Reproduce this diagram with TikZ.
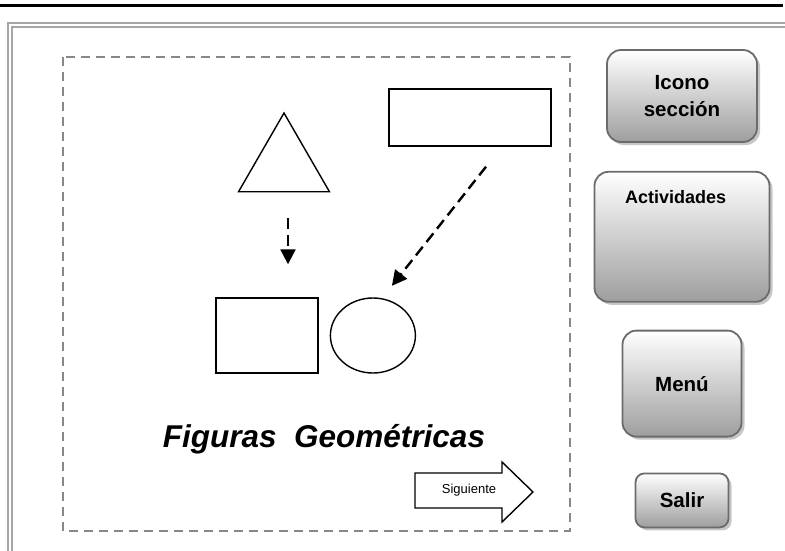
\documentclass[tikz,border=0pt]{standalone}
\usepackage{fontspec}
\setmainfont{Liberation Sans}
\usetikzlibrary{positioning}
\usetikzlibrary{arrows.meta}
\usetikzlibrary{shapes.geometric}
\usetikzlibrary{shadows}

\begin{document}
\begin{tikzpicture}[x=1pt, y=-1pt,
        fig/.style={draw=black, line width=1.4pt, inner sep=0pt},
        button/.style={draw=black!58, line width=1.8pt, rounded corners=14pt, top color=white, bottom color=black!38, drop shadow={shadow xshift=3pt, shadow yshift=-3pt, fill=black!22, opacity=1}, inner sep=0pt, align=center, font=\bfseries\fontsize{20.5}{27}\selectfont},
        flow/.style={dash pattern=on 11pt off 6pt, line width=2.4pt, -{Triangle[length=15pt, width=15pt]}},
        frame/.style={draw=black!35, line width=1.4pt},
        heading/.style={font=\bfseries\itshape\fontsize{31.5}{36}\selectfont, anchor=base}]
            \useasboundingbox (0,0) rectangle (785,551);
            \draw[line width=3pt] (0,6) -- (783,6);
            \draw[frame] (8,551) -- (8,23) -- (785,23);
            \draw[frame] (12,551) -- (12,27) -- (785,27);
            \draw[draw=black!47, line width=2.5pt, dash pattern=on 9pt off 6pt] (63,57) rectangle (570,531);

            \node[fig, regular polygon, regular polygon sides=3, minimum size=105pt] (tri) at (284,165.5) {};
            \node[fig, minimum width=162pt, minimum height=57pt] (bar) at (470,117.5) {};
            \node[fig, minimum width=102pt, minimum height=75pt] (box) at (267,335.5) {};
            \node[fig, ellipse, minimum width=85pt, minimum height=75pt, right = 11pt of box] (oval) {};

            \draw[flow] ([xshift=4pt, yshift=-26pt]tri.south) -- ([xshift=21pt, yshift=33pt]box.north);
            \draw[flow] ([xshift=16pt, yshift=-20pt]bar.south) -- ([xshift=19pt, yshift=11.5pt]oval.north);

            \node[heading] (caption) at (324,447) {Figuras\ \ Geométricas};
            \draw[fig] (415,473) -- (502,473) -- (502,462) -- (533,492) -- (502,522) -- (502,508) -- (415,508) -- cycle;
            \node[font=\fontsize{13}{15}\selectfont] (next) at (469,490) {Siguiente};

            \node[button, minimum width=150pt, minimum height=92pt] (icon) at (682,96) {Icono\\sección};
            \node[button, minimum width=175pt, minimum height=130pt, below = 28pt of icon] (act) {};
            \node[anchor=base west, font=\bfseries\fontsize{18}{22}\selectfont] (act_label) at ([xshift=28pt, yshift=-33pt]act.north west) {Actividades};
            \node[button, minimum width=119pt, minimum height=106pt, below = 27pt of act] (menu) {Menú};
            \node[button, rounded corners=9pt, minimum width=93pt, minimum height=54pt, below = 35pt of menu] (quit) {Salir};
        \end{tikzpicture}
\end{document}
